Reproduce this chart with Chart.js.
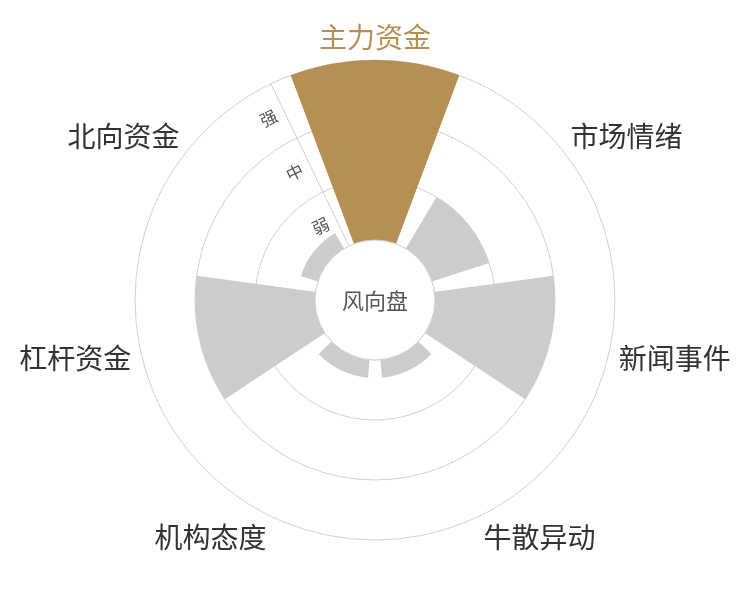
<!DOCTYPE html>
<html>
<head>
<meta charset="utf-8">
<script src="https://cdn.jsdelivr.net/npm/chart.js@4"></script>
<style>
  body { margin: 0; background: #fff; }
  #wrap { width: 750px; height: 600px; }
</style>
</head>
<body>
<div id="wrap"><canvas id="myChart"></canvas></div>
<script>
// categories go clockwise starting from the top
const categories = ['主力资金', '市场情绪', '新闻事件', '牛散异动', '机构态度', '杠杆资金', '北向资金'];
const strength = [3, 1, 2, 0.3, 0.3, 2, 0.3];
const levelLabels = ['弱', '中', '强'];
const centerTitle = '风向盘';
const highlightIndex = 0;

const GOLD = '#b69053';
const GREY = '#cccccc';
const FONT = '"Noto Sans CJK SC", "Noto Sans", sans-serif';

// each category gets 80% of its slice, the rest is a gap
const step = 360 / categories.length;
const barAngle = step * 0.8;
const gapAngle = step - barAngle;

var labels = [];
var values = [];
var colors = [];
var angles = [];
categories.forEach(function (c, i) {
    labels.push(c);
    values.push(strength[i]);
    colors.push(i === highlightIndex ? GOLD : GREY);
    angles.push(barAngle);
    labels.push('');
    values.push(-1);
    colors.push('rgba(0,0,0,0)');
    angles.push(gapAngle);
});

const decor = {
    id: 'decor',
    afterDatasetsDraw(chart) {
        const ctx = chart.ctx;
        const s = chart.scales.r;
        const cx = s.xCenter, cy = s.yCenter;
        const rHole = s.getDistanceFromCenterForValue(0);
        const rOuter = s.getDistanceFromCenterForValue(levelLabels.length);

        // axis line on the boundary left of the first category
        const lineDeg = -step / 2;
        const la = (lineDeg - 90) * Math.PI / 180;
        ctx.save();
        ctx.strokeStyle = '#cfcfcf';
        ctx.lineWidth = 1;
        ctx.beginPath();
        ctx.moveTo(cx + rHole * Math.cos(la), cy + rHole * Math.sin(la));
        ctx.lineTo(cx + rOuter * Math.cos(la), cy + rOuter * Math.sin(la));
        ctx.stroke();

        // level labels along that line
        ctx.fillStyle = '#555';
        ctx.font = '17px ' + FONT;
        ctx.textAlign = 'center';
        ctx.textBaseline = 'middle';
        levelLabels.forEach(function (t, i) {
            const r = s.getDistanceFromCenterForValue(i + 0.5);
            const px = cx + r * Math.cos(la);
            const py = cy + r * Math.sin(la);
            // shift to the left side of the line
            const nx = Math.cos(la - Math.PI / 2), ny = Math.sin(la - Math.PI / 2);
            ctx.save();
            ctx.translate(px + nx * 17, py + ny * 17);
            ctx.rotate(lineDeg * Math.PI / 180);
            ctx.fillText(t, 0, 0);
            ctx.restore();
        });

        // center hole
        ctx.beginPath();
        ctx.arc(cx, cy, rHole, 0, Math.PI * 2);
        ctx.fillStyle = '#fff';
        ctx.fill();
        ctx.strokeStyle = '#d0d0d0';
        ctx.stroke();
        ctx.fillStyle = '#555';
        ctx.font = '22px ' + FONT;
        ctx.fillText(centerTitle, cx, cy + 1);

        // category labels round the outside
        const R = s.drawingArea + 10;
        const h = 26;
        ctx.font = '28px ' + FONT;
        categories.forEach(function (c, i) {
            const deg = i * step;
            const a = deg * Math.PI / 180;
            const sn = Math.sin(a), cs = Math.cos(a);
            const x = cx + R * sn;
            const y = cy - R * cs - cs * h / 2;
            ctx.textAlign = Math.abs(sn) < 0.01 ? 'center' : (sn > 0 ? 'left' : 'right');
            ctx.fillStyle = i === highlightIndex ? GOLD : '#333';
            ctx.fillText(c, x, y);
        });
        ctx.restore();
    }
};

var myChart = new Chart(document.getElementById('myChart'), {
    type: 'polarArea',
    data: {
        labels: labels,
        datasets: [{
            data: values,
            backgroundColor: colors,
            borderWidth: 0,
            angle: function (ctx) { return angles[ctx.dataIndex]; }
        }]
    },
    options: {
        responsive: true,
        maintainAspectRatio: false,
        animation: false,
        events: [],
        layout: { padding: { top: 60, bottom: 60 } },
        plugins: {
            legend: { display: false },
            tooltip: { enabled: false }
        },
        scales: {
            r: {
                min: -1,
                max: 3,
                startAngle: -barAngle / 2,
                ticks: { display: false, stepSize: 1 },
                grid: { color: '#d0d0d0', lineWidth: 1 },
                pointLabels: { display: false },
                angleLines: { display: false }
            }
        }
    },
    plugins: [decor]
});
</script>
</body>
</html>
